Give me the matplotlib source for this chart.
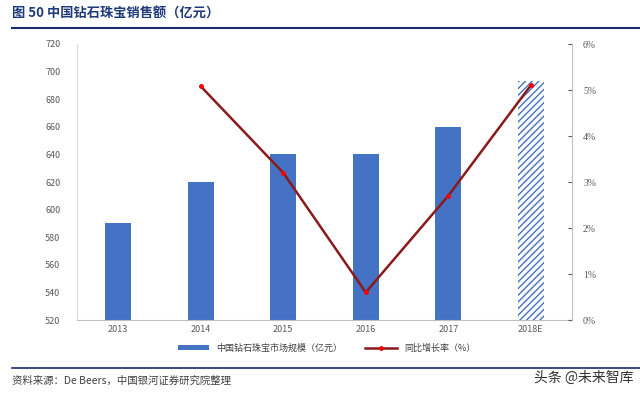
import matplotlib.pyplot as plt
import numpy as np

plt.rcParams['font.family'] = ['Noto Sans CJK SC', 'DejaVu Sans']

years = ["2013", "2014", "2015", "2016", "2017", "2018E"]
sales = [590, 620, 640, 640, 660, 693]
growth_years = ["2014", "2015", "2016", "2017", "2018E"]
growth = [5.08, 3.2, 0.6, 2.7, 5.1]

x = np.arange(len(years))
gx = [years.index(y) for y in growth_years]

fig = plt.figure(figsize=(6.4, 3.94), dpi=100)
ax = fig.add_axes([77 / 640, 1 - 320 / 394, 495 / 640, 276 / 394])

blue = "#4472C4"
bars = ax.bar(x[:-1], sales[:-1], width=0.32, color=blue, zorder=2)
plt.rcParams['hatch.color'] = blue
plt.rcParams['hatch.linewidth'] = 1.0
ax.bar(x[-1], sales[-1], width=0.32, color="white", hatch="/////",
       edgecolor=blue, linewidth=0, zorder=2)

ax.set_xlim(-0.5, len(years) - 0.5)
ax.set_ylim(520, 720)
ax.set_yticks(range(520, 721, 20))
ax.set_xticks(x)
ax.set_xticklabels(years)
ax.tick_params(axis="both", labelsize=6.5, colors="#595959", length=0)
ax.tick_params(axis="y", pad=12)
for s in ["top", "right"]:
    ax.spines[s].set_visible(False)
ax.spines["left"].set_color("#D9D9D9")
ax.spines["bottom"].set_color("#BFBFBF")

ax2 = ax.twinx()
ax2.set_ylim(0, 6)
ax2.set_yticks(range(0, 7))
ax2.set_yticklabels([f"{v}%" for v in range(0, 7)], family="Liberation Serif")
ax2.tick_params(axis="y", labelsize=7, colors="#595959", length=3, direction="in", pad=8)
for s in ["top", "left", "bottom"]:
    ax2.spines[s].set_visible(False)
ax2.spines["right"].set_color("#BFBFBF")
line, = ax2.plot(gx, growth, color="#8B1A1A", lw=1.8, marker="o", ms=2.5,
                 markerfacecolor="#FF0000", markeredgecolor="#FF0000", zorder=3)

fig.legend([bars, line], ["中国钻石珠宝市场规模（亿元）", "同比增长率（%）"],
           loc="center", bbox_to_anchor=(0.51, 1 - 348 / 394), ncol=2, frameon=False,
           fontsize=6.5, handlelength=3.5, handleheight=0.5, columnspacing=2.5,
           labelcolor="#404040")

fig.text(12 / 640, 1 - 14 / 394, "图 50 中国钻石珠宝销售额（亿元）", fontsize=9.5,
         fontweight="bold", color="#1F3A7A", va="center")
fig.add_artist(plt.Line2D([12 / 640, 1], [1 - 28 / 394] * 2, color="#1F2A6B", lw=1.5))
fig.add_artist(plt.Line2D([12 / 640, 1], [1 - 368 / 394] * 2, color="#1F2A6B", lw=1.2))
fig.text(12 / 640, 1 - 381 / 394, "资料来源：De Beers，中国银河证券研究院整理", fontsize=7.5,
         style="italic", color="#404040", va="center")
fig.text(0.99, 1 - 378 / 394, "头条 @未来智库", fontsize=10, color="#333333",
         ha="right", va="center")

fig.savefig("out.png", dpi=100)
